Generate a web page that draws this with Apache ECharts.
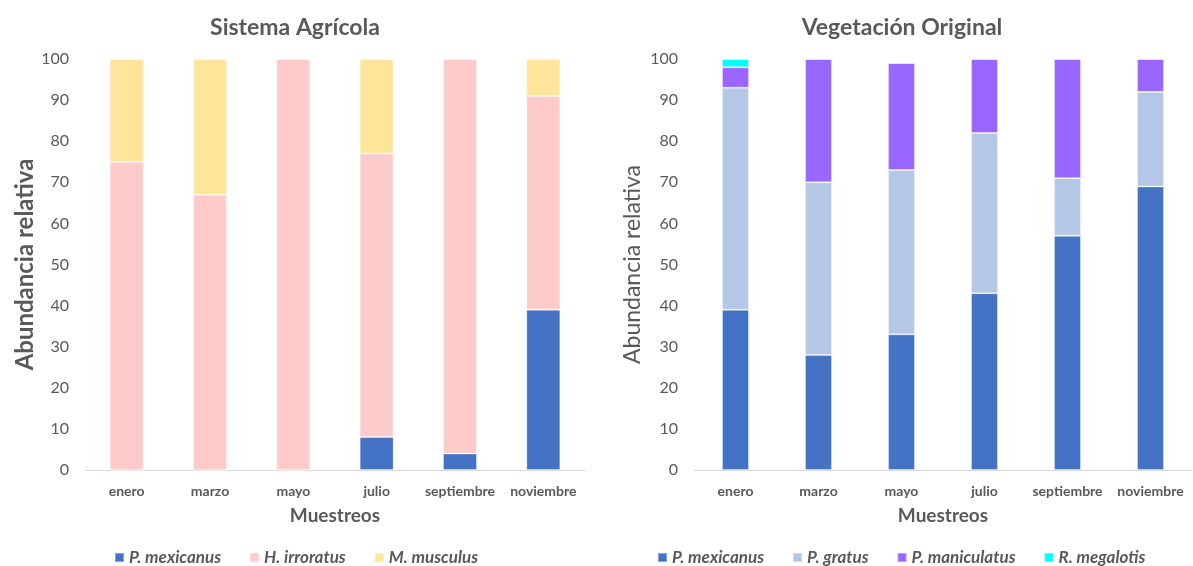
<!DOCTYPE html>
<html>
<head>
<meta charset="utf-8">
<script src="https://cdn.jsdelivr.net/npm/echarts@6/dist/echarts.min.js"></script>
<style>
  html, body { margin: 0; padding: 0; background: #fff; }
  #chart { width: 1193px; height: 566px; }
</style>
</head>
<body>
<div id="chart"></div>
<script>
// Sampling months
const months = ['enero', 'marzo', 'mayo', 'julio', 'septiembre', 'noviembre'];
const yTicks = [0, 10, 20, 30, 40, 50, 60, 70, 80, 90, 100];

// Sistema Agrícola (relative abundance, %)
const agriPMexicanus = [0, 0, 0, 8, 4, 39];
const agriHIrroratus = [75, 67, 100, 69, 96, 52];
const agriMMusculus  = [25, 33, 0, 23, 0, 9];

// Vegetación Original (relative abundance, %)
const vegPMexicanus   = [39, 28, 33, 43, 57, 69];
const vegPGratus      = [54, 42, 40, 39, 14, 23];
const vegPManiculatus = [5, 30, 26, 18, 29, 8];
const vegRMegalotis   = [2, 0, 0, 0, 0, 0];

const FONT = 'Lato, "Open Sans", sans-serif';
const GREY = '#595959';

const colors = {
  'P. mexicanus': '#4472C4',
  'H. irroratus': '#FFCACA',
  'M. musculus': '#FFE599',
  'P. gratus': '#B4C7E7',
  'P. maniculatus': '#9966FF',
  'R. megalotis': '#00FFFF'
};

function xAxis(gridIndex) {
  return {
    type: 'category', gridIndex, data: months,
    name: 'Muestreos', nameLocation: 'middle', nameGap: 36,
    nameTextStyle: { fontFamily: FONT, fontSize: 19, fontWeight: 'bold', color: GREY },
    axisLine: { lineStyle: { color: '#D9D9D9', width: 1 } },
    axisTick: { show: false },
    axisLabel: { fontFamily: FONT, fontSize: 14, fontWeight: 'bold', color: GREY, margin: 14, interval: 0 }
  };
}
function yAxis(gridIndex, bold, gap, size) {
  return {
    type: 'value', gridIndex, min: 0, max: 100, interval: 10,
    name: 'Abundancia relativa', nameLocation: 'middle', nameGap: gap,
    nameTextStyle: { fontFamily: FONT, fontSize: size, fontWeight: bold ? 'bold' : 'normal', color: GREY },
    axisLine: { show: false }, axisTick: { show: false },
    splitLine: { show: false },
    axisLabel: { fontFamily: FONT, fontSize: 16, color: GREY, margin: 16,
      formatter: v => yTicks.includes(v) ? String(v) : '' }
  };
}
function bar(name, data, idx, stack, width) {
  return {
    name, type: 'bar', stack, data, xAxisIndex: idx, yAxisIndex: idx,
    barWidth: width,
    itemStyle: { color: colors[name], borderColor: 'rgba(255,255,255,0.35)', borderWidth: 1 },
    emphasis: { disabled: true }
  };
}

const legendText = { fontFamily: FONT, fontSize: 17, fontWeight: 'bold', fontStyle: 'italic', color: GREY };

const chart = echarts.init(document.getElementById('chart'), null, { renderer: 'canvas' });
chart.setOption({
  animation: false,
  title: [
    { text: 'Sistema Agrícola', left: 290, top: 11, textAlign: 'center',
      textStyle: { fontFamily: FONT, fontSize: 23, fontWeight: 'bold', color: GREY } },
    { text: 'Vegetación Original', left: 897, top: 11, textAlign: 'center',
      textStyle: { fontFamily: FONT, fontSize: 23, fontWeight: 'bold', color: GREY } }
  ],
  legend: [
    { data: ['P. mexicanus', 'H. irroratus', 'M. musculus'], left: 109, top: 544,
      icon: 'rect', itemWidth: 9, itemHeight: 9, itemGap: 28, textStyle: legendText },
    { data: ['P. mexicanus', 'P. gratus', 'P. maniculatus', 'R. megalotis'], left: 652, top: 544,
      icon: 'rect', itemWidth: 9, itemHeight: 9, itemGap: 28, textStyle: legendText }
  ],
  grid: [
    { left: 85, width: 500, top: 59, height: 411 },
    { left: 694, width: 498, top: 59, height: 411 }
  ],
  xAxis: [xAxis(0), xAxis(1)],
  yAxis: [yAxis(0, true, 48, 24), yAxis(1, false, 50, 23)],
  series: [
    bar('P. mexicanus', agriPMexicanus, 0, 'agri', 34),
    bar('H. irroratus', agriHIrroratus, 0, 'agri', 34),
    bar('M. musculus', agriMMusculus, 0, 'agri', 34),
    bar('P. mexicanus', vegPMexicanus, 1, 'veg', 27),
    bar('P. gratus', vegPGratus, 1, 'veg', 27),
    bar('P. maniculatus', vegPManiculatus, 1, 'veg', 27),
    bar('R. megalotis', vegRMegalotis, 1, 'veg', 27)
  ]
});
</script>
</body>
</html>
